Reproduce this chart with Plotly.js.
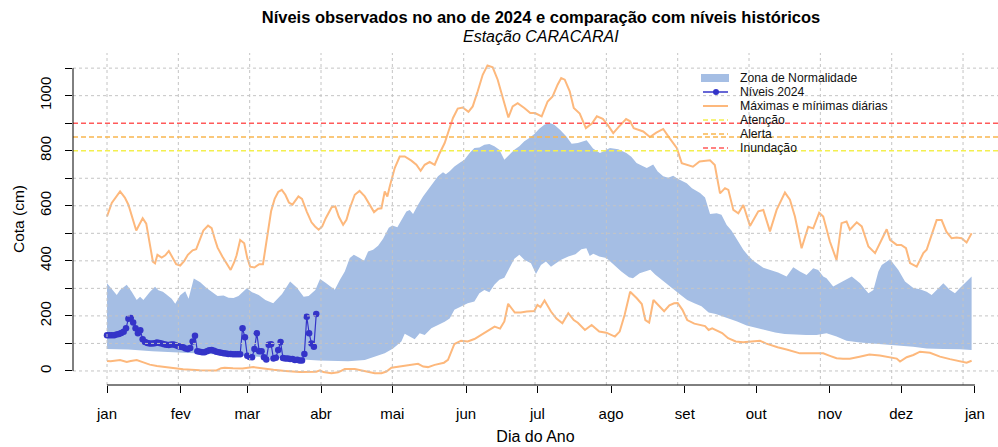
<!DOCTYPE html>
<html><head><meta charset="utf-8">
<script src="https://cdn.plot.ly/plotly-3.0.1.min.js"></script>
<style>html,body{margin:0;padding:0;background:#fff;overflow:hidden}</style>
</head><body><div id="chart" style="width:998px;height:447px"></div>
<script>
// ---- eixos ----
const mesesDias = [1,32,60,91,121,152,182,213,244,274,305,335,366];
const mesesNomes = ['jan','fev','mar','abr','mai','jun','jul','ago','set','out','nov','dez','jan'];
const gradeDias = [1,31,61,91,121,151,181,211,241,271,301,331,361];
const cotasTicks = [0,100,200,300,400,500,600,700,800,900,1000,1100];
const cotasRotulos = ['0','','200','','400','','600','','800','','1000',''];

// ---- cotas de referência ----
const limiaresNomes = ['Atenção','Alerta','Inundação'];
const limiaresCotas = [800, 850, 900];
const limiaresCores = ['#f3ef4f','#f9b64f','#ff5a5a'];

// ---- zona de normalidade (limite superior) ----
const zonaSupDia = [1,3.7,5.1,6.5,9.3,11.4,13.5,14.9,16.3,19.1,21.2,22.6,24.5,26,28.2,29.7,31.8,33.9,35.3,37.5,40.2,43,45.3,47.5,50,52.1,54.2,56.3,59.8,62,64.8,67.6,70.9,72.5,74.6,78,80.8,83.7,85.8,88.6,90.6,92.9,95.2,96.8,98.9,101,103.1,104.8,107.3,109.1,110.8,112.9,115,117.1,119.5,121,123.1,124.8,126.9,128.3,129.7,131.8,133.9,136,138.1,140.2,142.3,143.5,145.1,147.1,149.2,151.3,153.4,155.5,157.6,159.7,161.8,163.9,166,168.1,170.2,172.3,174.4,176.5,178.6,180.7,182.8,184.9,187,189.1,191.5,194.2,196.4,199,202.7,205.4,208.3,210.5,212.5,216,219.4,221.5,223.7,226,228,230.7,232.5,234.9,237,239.1,241,244.8,247,250.4,252.5,254.6,257.4,259.4,261.6,263.6,265.4,268.6,270.5,272.8,277,280.4,283.2,286.8,289.6,292.4,295.2,298,300.1,302.2,303.6,306.4,310,314.2,317.7,321.2,323.3,325.4,326.8,330.3,333.8,336.6,340.1,342.9,345.7,347.8,349.9,352.7,355.5,357.6,359.7,362.5,364.6];
const zonaSupCota = [319,288,276,294,313,288,258,270,258,288,306,293,288,278,262,244,275,290,262,336,322,300,285,272,274,266,265,272,300,286,276,258,246,262,280,325,303,270,272,294,334,320,305,295,330,361,410,422,410,400,434,440,455,480,520,528,522,549,579,585,570,604,634,658,682,707,722,715,725,743,755,767,791,810,812,822,824,816,804,767,785,804,816,834,846,861,880,894,902,894,876,852,825,828,838,808,792,800,810,805,792,778,755,745,737,750,725,707,702,709,698,682,664,646,630,570,573,567,530,510,485,440,420,400,375,367,358,343,377,361,349,373,367,343,337,307,325,343,319,282,294,361,385,406,367,325,301,297,288,276,294,319,294,282,301,325,343];

// ---- zona de normalidade (limite inferior) ----
const zonaInfDia = [1,10,20,30,40,50,60,70,80,90,95.4,102.4,109.4,113.6,117.8,121.3,124.8,126.2,128.3,130.4,132.5,134.6,137.4,140.2,143,145.1,147.1,149.9,152.7,155.5,157.6,159.7,161.8,163.9,166,168.1,170.2,172.3,174.4,176.5,179.3,181.4,183.5,185.6,187.7,189.8,192,195,198,200.5,202.6,204,205.5,208,211,214,217.3,220.5,222.2,225,227,229.5,231.5,234,237,240,242,245,248,251,254,257,260,263,266,270,274,278,282,286,290,295,299.4,303.6,307.8,312,317.7,322,326,331.7,336,340,345.7,352.7,359.7,364.6];
const zonaInfCota = [80,78,72,67,63,59,54,49,43,38,36,35,40,52,64,82,107,135,125,115,137,131,155,167,179,191,222,234,246,252,282,294,286,313,331,339,373,408,422,404,391,352,385,398,379,391,404,416,424,442,446,418,426,416,410,385,361,340,337,355,361,368,350,333,312,292,278,258,246,235,212,207,198,189,180,165,156,148,140,134,132,131,131,137,125,110,103,100,98,95,91,88,82,80,79,76];

// ---- máximas diárias ----
const maxDia = [1,3,6.5,8.5,10,12,13.3,14.5,16,17.5,19,20.3,21.2,22.2,24,25.5,27,28.5,30.1,31.8,33.5,35,37,38.5,40,41.5,43.5,45,46.3,47.5,49.5,51.5,53,54.5,55.5,57,58.7,60,61.2,63,65,66.6,68.3,70,71.5,73,74.5,76,77.5,79,81.5,83,85,87,88.5,90,91.5,93,95.5,97,98.5,100.3,101.7,103.1,105.2,107.2,109.4,111.5,113.3,115,116.4,117.8,118.9,119.9,121,122,124.1,126.2,129,131.1,132.9,134.6,136.7,138.8,140.9,143,144.6,146.5,148.5,150.6,153,154.8,156.9,159,161,163.2,165.3,167.4,169.8,171.6,173.7,176.5,179,181,183.8,186.3,188.4,190.5,192,193.5,195.6,197.3,199.8,202.4,205,207,209.5,211.5,213.9,216,219.3,221,222.5,226.5,229.3,232,234.9,237.8,240.6,242.7,244.8,247.4,250.2,254.6,256.6,258.8,260.9,262.3,264.4,266.5,268.6,271.4,274.9,277,279.8,282.6,286.1,288.2,290.3,293.1,295.9,298,300.5,302.2,305,307.8,309.9,312,313.4,316.3,318.4,321.2,324,326.8,328.9,330.3,333.1,335,337,338.7,341.5,344.3,345.7,348,349.9,352,354,356.2,358.3,360.4,362.5,364.6];
const maxCota = [561,610,652,630,604,545,510,530,555,535,460,397,391,422,412,420,436,415,388,383,400,422,438,442,480,510,528,519,480,448,416,390,367,395,420,476,464,410,379,376,388,388,494,580,625,650,658,640,612,604,634,625,579,540,525,513,525,555,595,598,560,531,549,591,640,654,634,605,577,589,591,652,634,670,705,737,779,779,764,749,727,749,759,749,791,828,870,919,953,957,941,961,1016,1076,1110,1103,1058,991,921,961,973,955,937,937,925,979,997,1040,1064,1058,1016,955,935,882,900,925,916,895,864,885,915,907,882,870,850,866,879,843,810,755,750,742,761,765,748,645,664,658,585,573,603,527,580,585,507,585,648,622,561,446,524,518,575,561,470,403,537,543,513,540,525,452,428,476,515,476,458,458,446,392,379,428,440,500,548,548,506,482,485,482,467,500];

// ---- mínimas diárias ----
const minDia = [1,2.5,6.5,9.3,11,13.5,16,19,22,26,30,33,40,47,49,50.5,54,58,62.5,66,71,76,82,89,90.6,92,95.4,98.2,101,105.2,109.4,113.6,116.4,118.5,120.6,123.4,127.6,131.8,134,136,138.8,142.7,144.4,147.1,149.9,152.7,155.5,158.3,161,164,166.3,168.1,169.7,172.5,175,177.5,180.7,182,183.3,185,187.7,190,192.5,195,197.3,199,202,204.8,208,211,214.6,216.6,218.7,221,223.8,225.9,227.4,229,230.8,232.8,235.3,237.5,239.5,241,243,245,248,252.5,254,255.5,259.7,262.2,265.4,268.5,272,275.6,278,280.4,283,286.8,290,292.4,296,299.4,302.2,305,307.8,310.5,313.4,317.5,321.6,326,330.3,333.1,334.5,337.3,340.1,342.9,347.1,351.3,355.5,359.7,362.5,364.6];
const minCota = [36,35,40,33,36,40,32,23,18,14,9,6,3,2,10,12,10,9,14,9,4,0,-4,-3,2,-4,-8,-5,7,7,0,-8,-8,-2,12,16,22,26,16,14,22,30,40,98,110,107,116,130,146,161,154,180,244,212,212,216,218,240,232,256,216,190,173,210,185,175,149,167,143,139,125,143,204,288,264,243,185,176,258,241,217,238,246,247,222,185,172,163,149,155,138,119,107,104,106,110,100,92,86,78,70,64,64,63,64,55,46,44,44,52,60,56,50,45,34,50,58,70,66,52,43,34,30,37];

// ---- níveis observados em 2024 ----
const niveis2024Dia = [1,2,3,4,5,6,7,8,9,10,11,12,13,14,15,16,17,18,19,20,21,22,23,24,25,26,27,28,29,30,31,32,33,34,35,36,37,38,39,40,41,42,43,44,45,46,47,48,49,50,51,52,53,54,55,56,57,58,59,60,61,62,63,64,65,66,67,68,69,70,71,72,73,74,75,76,77,78,79,80,81,82,83,84,85,86,87,88,89];
const niveis2024Cota = [130,130,130,130,132,134,138,142,155,190,192,176,155,137,148,115,105,102,100,100,101,103,102,100,97,95,94,96,96,93,90,88,86,82,80,83,107,128,72,70,68,68,72,75,76,73,70,68,66,64,63,62,62,61,61,61,61,155,122,55,51,50,80,137,72,72,50,42,95,97,45,48,76,105,47,45,45,43,43,40,41,38,38,62,197,137,100,88,207];

// ---- estilos ----
const corZona = '#a5bee4';
const corMaxMin = '#fdb87c';
const cor2024 = '#3434c8';
const corGrade = '#c4c4c4';
const xRange = [-13.3, 375.7];
const yRange = [-51, 1155];

const traces = [
  {
    name: 'Zona de Normalidade', type: 'scatter', mode: 'lines',
    x: zonaSupDia.concat(zonaInfDia.slice().reverse()),
    y: zonaSupCota.concat(zonaInfCota.slice().reverse()),
    fill: 'toself', fillcolor: corZona, line: {width: 0, color: corZona},
    hoverinfo: 'skip', showlegend: false
  },
  {
    name: 'Máximas diárias', type: 'scatter', mode: 'lines',
    x: maxDia, y: maxCota, line: {color: corMaxMin, width: 2}, showlegend: false
  },
  {
    name: 'Mínimas diárias', type: 'scatter', mode: 'lines',
    x: minDia, y: minCota, line: {color: corMaxMin, width: 2}, showlegend: false
  },
  {
    name: 'Níveis 2024', type: 'scatter', mode: 'lines+markers',
    x: niveis2024Dia, y: niveis2024Cota,
    line: {color: cor2024, width: 1.2}, marker: {color: cor2024, size: 6.5}, showlegend: false
  }
];

// grade pontilhada, linhas de referência e eixos
const shapes = [];
gradeDias.forEach(d => shapes.push({type:'line', xref:'x', yref:'paper', x0:d, x1:d, y0:0, y1:1, layer:'above', line:{color:corGrade, width:1, dash:'dot'}}));
cotasTicks.forEach(c => { if (limiaresCotas.indexOf(c) < 0) shapes.push({type:'line', xref:'paper', yref:'y', x0:0, x1:1, y0:c, y1:c, layer:'above', line:{color:corGrade, width:1, dash:'dot'}}); });
limiaresCotas.forEach((c, i) => shapes.push({type:'line', xref:'paper', yref:'y', x0:0, x1:1, y0:c, y1:c, layer:'above', line:{color:limiaresCores[i], width:1.4, dash:'5px,3px'}}));
const xp = v => (v - xRange[0]) / (xRange[1] - xRange[0]);
shapes.push({type:'line', xref:'paper', yref:'paper', x0:xp(mesesDias[0]), x1:xp(mesesDias[mesesDias.length-1]), y0:0, y1:0, layer:'above', line:{color:'#000', width:1}});
shapes.push({type:'line', xref:'paper', yref:'y', x0:0, x1:0, y0:cotasTicks[0], y1:cotasTicks[cotasTicks.length-1], layer:'above', line:{color:'#000', width:1}});

// legenda (desenhada à mão para reproduzir o espaçamento)
const L = 73, PW = 925, T = 53, PH = 332;
const px = p => (p - L) / PW, py = p => (385 - p) / PH;
const legItems = [
  {t:'Zona de Normalidade', y:78, kind:'band'},
  {t:'Níveis 2024', y:92, kind:'pts'},
  {t:'Máximas e mínimas diárias', y:106, kind:'line'},
  {t:limiaresNomes[0], y:120, kind:'dash', c:limiaresCores[0]},
  {t:limiaresNomes[1], y:134, kind:'dash', c:limiaresCores[1]},
  {t:limiaresNomes[2], y:148, kind:'dash', c:limiaresCores[2]}
];
const annotations = [];
legItems.forEach(it => {
  annotations.push({xref:'paper', yref:'paper', x:px(739), y:py(it.y), text:it.t, showarrow:false, xanchor:'left', yanchor:'middle', font:{size:12.2, color:'#111'}, borderpad:0});
  if (it.kind === 'band') shapes.push({type:'line', xref:'paper', yref:'paper', x0:px(701), x1:px(729), y0:py(it.y), y1:py(it.y), line:{color:corZona, width:8}});
  if (it.kind === 'pts') {
    shapes.push({type:'line', xref:'paper', yref:'paper', x0:px(703), x1:px(728), y0:py(it.y), y1:py(it.y), line:{color:cor2024, width:1.5}});
    shapes.push({type:'circle', xref:'paper', yref:'paper', x0:px(713), x1:px(719), y0:py(it.y+3), y1:py(it.y-3), fillcolor:cor2024, line:{color:cor2024, width:0}});
  }
  if (it.kind === 'line') shapes.push({type:'line', xref:'paper', yref:'paper', x0:px(703), x1:px(728), y0:py(it.y), y1:py(it.y), line:{color:corMaxMin, width:2}});
  if (it.kind === 'dash') shapes.push({type:'line', xref:'paper', yref:'paper', x0:px(703), x1:px(728), y0:py(it.y), y1:py(it.y), line:{color:it.c, width:1.4, dash:'5px,3px'}});
});
annotations.push({xref:'paper', yref:'paper', x:px(541), y:py(36), text:'<i>Estação CARACARAI</i>', showarrow:false, xanchor:'center', yanchor:'middle', font:{size:16, color:'#000'}});

const layout = {
  width: 998, height: 447,
  margin: {l: L, r: 0, t: T, b: 447 - 385},
  paper_bgcolor: '#fff', plot_bgcolor: '#fff',
  font: {family: '"Liberation Sans", Arial, Helvetica, sans-serif', size: 15, color: '#000'},
  showlegend: false,
  title: {text: 'Níveis observados no ano de 2024 e comparação com níveis históricos',
          font: {size: 16.5, weight: 'bold', color: '#000'},
          x: 541/998, xref: 'container', xanchor: 'center', y: 1 - 17/447, yref: 'container', yanchor: 'middle'},
  xaxis: {range: xRange, tickmode: 'array', tickvals: mesesDias, ticktext: mesesNomes,
          ticks: 'outside', ticklen: 7, tickwidth: 1, tickcolor: '#000', showgrid: false, zeroline: false, showline: false,
          ticklabelstandoff: 8, tickfont: {size: 15},
          title: {text: 'Dia do Ano', font: {size: 16}, standoff: 9}, automargin: false, fixedrange: true},
  yaxis: {range: yRange, tickmode: 'array', tickvals: cotasTicks, ticktext: cotasRotulos, tickangle: -90,
          ticks: 'outside', ticklen: 7, tickwidth: 1, tickcolor: '#000', showgrid: false, zeroline: false, showline: false,
          ticklabelstandoff: 8, tickfont: {size: 15},
          title: {text: 'Cota (cm)', font: {size: 15.5}, standoff: 8}, automargin: false, fixedrange: true},
  shapes: shapes,
  annotations: annotations
};

Plotly.newPlot('chart', traces, layout, {displayModeBar: false, staticPlot: true});
</script>
</body></html>
